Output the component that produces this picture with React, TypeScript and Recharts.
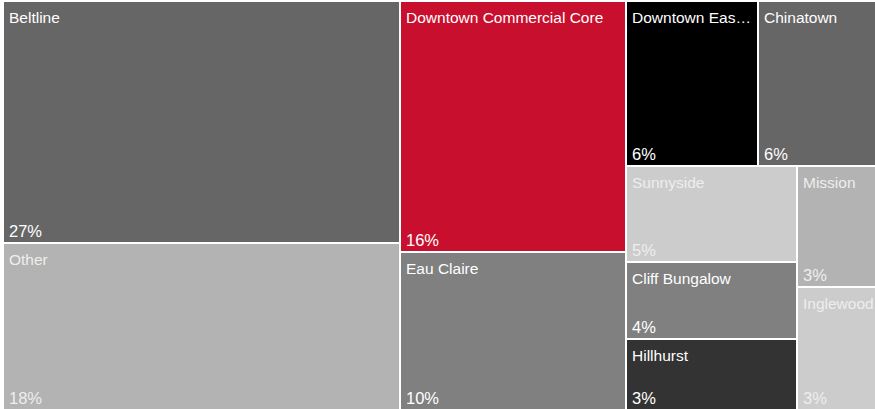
import React from 'react';
import { Treemap } from 'recharts';

const names = [
  'Beltline',
  'Other',
  'Downtown Commercial Core',
  'Eau Claire',
  'Downtown East Village',
  'Chinatown',
  'Sunnyside',
  'Cliff Bungalow',
  'Hillhurst',
  'Mission',
  'Inglewood',
];
const shares = [26.9, 18.5, 15.9, 10.0, 6.1, 5.5, 4.6, 3.7, 3.4, 2.7, 2.7];
const percentLabels = ['27%', '18%', '16%', '10%', '6%', '6%', '5%', '4%', '3%', '3%', '3%'];
const colors = [
  '#666666',
  '#b3b3b3',
  '#c8102e',
  '#808080',
  '#000000',
  '#666666',
  '#cccccc',
  '#808080',
  '#333333',
  '#b3b3b3',
  '#cccccc',
];

const data = names.map((name, i) => ({
  name,
  size: shares[i],
  pct: percentLabels[i],
  color: colors[i],
}));

const FONT_FAMILY = '"Liberation Sans", Arial, Helvetica, sans-serif';
const NAME_SIZE = 15.5;
const PCT_SIZE = 16.5;

let ctx: CanvasRenderingContext2D | null = null;
function measure(text: string, size: number): number {
  if (!ctx) {
    const c = document.createElement('canvas');
    ctx = c.getContext('2d');
  }
  if (!ctx) return text.length * size * 0.55;
  ctx.font = `${size}px ${FONT_FAMILY}`;
  return ctx.measureText(text).width;
}

function fitText(text: string, width: number, size: number): string {
  if (measure(text, size) <= width - 8) return text;
  for (let i = text.length - 1; i > 0; i--) {
    const t = text.slice(0, i).replace(/\s+$/, '') + '\u2026';
    if (measure(t, size) <= width - 12) return t;
  }
  return '';
}

function isLight(hex: string): boolean {
  const r = parseInt(hex.slice(1, 3), 16);
  const g = parseInt(hex.slice(3, 5), 16);
  const b = parseInt(hex.slice(5, 7), 16);
  return (0.299 * r + 0.587 * g + 0.114 * b) / 255 > 0.6;
}

const CellContent = (props: any) => {
  const { x, y, width, height, depth, name, pct, color } = props;
  if (depth !== 1 || !color) return null;
  const textFill = isLight(color) ? '#eeeeee' : '#ffffff';
  const label = fitText(String(name), width, NAME_SIZE);
  return (
    <g>
      <rect x={x} y={y} width={width} height={height} fill={color} stroke="#ffffff" strokeWidth={2} />
      <text
        x={x + 6}
        y={y + 22}
        fill={textFill}
        fontSize={NAME_SIZE}
        fontFamily={FONT_FAMILY}
        stroke="none"
      >
        {label}
      </text>
      <text
        x={x + 6}
        y={y + height - 6}
        fill={textFill}
        fontSize={PCT_SIZE}
        fontFamily={FONT_FAMILY}
        stroke="none"
      >
        {pct}
      </text>
    </g>
  );
};

export default function App() {
  return (
    <div
      style={{
        position: 'absolute',
        left: 0,
        top: 0,
        width: 875,
        height: 409,
        overflow: 'hidden',
        background: '#ffffff',
      }}
    >
      <div style={{ position: 'absolute', left: 3, top: 1 }}>
        <Treemap
          width={874}
          height={409}
          data={data}
          dataKey="size"
          nameKey="name"
          isAnimationActive={false}
          content={(p: any) => <CellContent {...p} />}
        />
      </div>
    </div>
  );
}
